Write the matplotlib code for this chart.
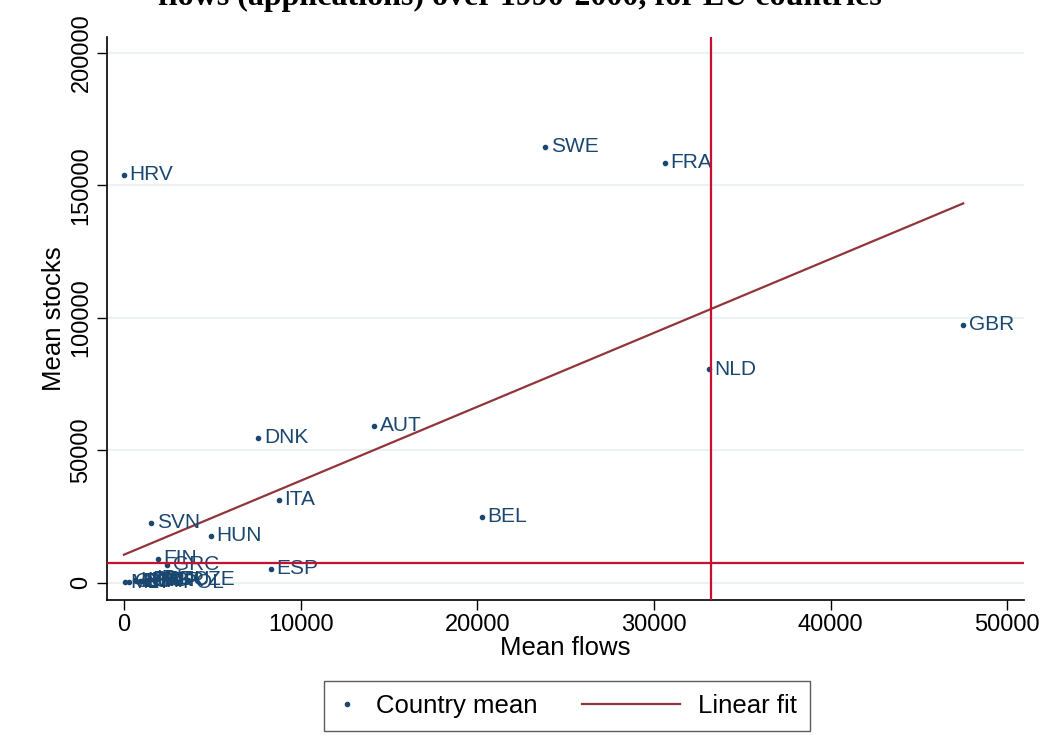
import matplotlib
matplotlib.use("Agg")
import matplotlib.pyplot as plt
from matplotlib.lines import Line2D
from matplotlib.legend_handler import HandlerLine2D
import numpy as np

plt.rcParams['font.family'] = ['Liberation Sans', 'DejaVu Sans']

# country means: asylum flows (applications) vs stocks, 1990-2000
countries = ['HRV', 'SWE', 'FRA', 'GBR', 'NLD', 'AUT', 'DNK', 'ITA', 'BEL', 'SVN',
             'HUN', 'FIN', 'GRC', 'ESP',
             'MLT', 'CYP', 'LUX', 'EST', 'LVA', 'LTU', 'SVK', 'PRT', 'IRL', 'BGR',
             'ROU', 'POL', 'CZE']
flows = [0, 23850, 30600, 47500, 33100, 14150, 7600, 8750, 20250, 1550,
         4900, 1900, 2450, 8300,
         50, 300, 600, 700, 900, 1000, 1200, 1300, 1500, 1700,
         1900, 3000, 3600]
stocks = [154000, 164500, 158500, 97300, 80500, 59200, 54800, 31300, 25000, 22600,
          17800, 9000, 6800, 5300,
          200, 400, 900, 600, 500, 800, 700, 1200, 1500, 1000,
          1300, 300, 1100]

# linear fit of stocks on flows
fit_intercept = 10600
fit_slope = 2.79

# reference lines
flows_cut = 33250
stocks_cut = 7550

navy = '#1a476f'
maroon = '#90353b'
red = '#c8102e'


class LongLine(HandlerLine2D):
    # legend line that reaches back to the left of its handle box
    def create_artists(self, legend, orig_handle, xdescent, ydescent,
                       width, height, fontsize, trans):
        y = height / 2 - ydescent
        line = Line2D([-3.0 * fontsize, width], [y, y])
        self.update_prop(line, orig_handle, legend)
        line.set_transform(trans)
        return [line]


fig = plt.figure(figsize=(10.46, 7.35), dpi=100)
ax = fig.add_axes([0.1023, 0.184, 0.877, 0.766])

ax.scatter(flows, stocks, s=9, color=navy, zorder=3)
for c, x, y in zip(countries, flows, stocks):
    ax.annotate(c, (x, y), xytext=(4, 0), textcoords='offset points',
                va='center', ha='left', fontsize=15, color=navy, zorder=3)

xf = np.array([min(flows), max(flows)])
ax.plot(xf, fit_intercept + fit_slope * xf, color=maroon, lw=1.6, zorder=2)

ax.axvline(flows_cut, color=red, lw=1.6, zorder=4)
ax.axhline(stocks_cut, color=red, lw=1.6, zorder=4)

ax.set_xlim(-960, 50960)
ax.set_ylim(-6400, 206000)
ax.set_xticks([0, 10000, 20000, 30000, 40000, 50000])
ax.set_yticks([0, 50000, 100000, 150000, 200000])
ax.tick_params(axis='both', labelsize=17, length=7, width=1, color='black')
for lab in ax.get_yticklabels():
    lab.set_rotation(90)
    lab.set_va('center')
ax.yaxis.grid(True, color='#eaf2f3', lw=1.5)
ax.set_axisbelow(True)
for s in ['top', 'right']:
    ax.spines[s].set_visible(False)
ax.spines['left'].set_linewidth(1.2)
ax.spines['bottom'].set_linewidth(1.2)

ax.set_xlabel('Mean flows', fontsize=18.5, labelpad=0)
ax.set_ylabel('Mean stocks', fontsize=18.5, labelpad=3)

fig.text(0.497, 0.993, 'Mean stocks vs mean asylum\nflows (applications) over 1990-2000, for EU countries',
         ha='center', va='baseline', fontsize=23, fontweight='bold',
         family=['Liberation Serif', 'DejaVu Serif'], linespacing=1.0)

handles = [Line2D([], [], marker='o', ls='none', color=navy, markersize=3),
           Line2D([], [], color=maroon, lw=1.6)]
leg = fig.legend(handles, ['Country mean', 'Linear fit'], loc='lower center',
                 bbox_to_anchor=(0.542, -0.012), ncol=2, fontsize=18.5, frameon=True,
                 fancybox=False, edgecolor='#333333', handlelength=0.8,
                 columnspacing=4.75, handletextpad=0.7, borderpad=0.5,
                 handler_map={handles[1]: LongLine()})
leg.get_frame().set_linewidth(1.0)

fig.savefig('out.png', dpi=100)
